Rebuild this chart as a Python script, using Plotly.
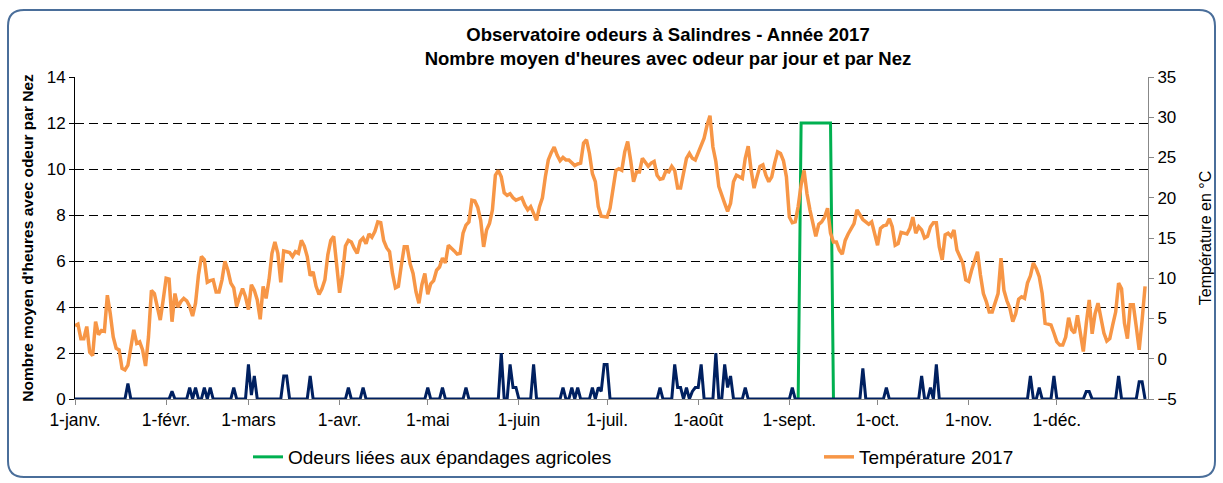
import pandas as pd
import plotly.graph_objects as go

# ---------------- DATA ----------------
dates = pd.date_range("2017-01-01", "2017-12-31", freq="D")

temperature_2017 = [
    4.1, 4.3, 2.5, 2.5, 4.0, 0.8, 0.4, 4.6, 3.0, 3.5,
    3.4, 7.9, 5.6, 2.7, 1.3, 1.1, -1.2, -1.4, -0.8, 1.3,
    3.6, 1.9, 2.1, 1.1, -0.9, 2.7, 8.5, 8.1, 6.5, 4.8,
    7.3, 10.0, 9.9, 4.6, 8.1, 6.4, 7.1, 7.5, 7.2, 6.5,
    5.3, 6.9, 10.4, 12.7, 12.3, 9.5, 9.7, 9.8, 8.3, 8.3,
    9.8, 12.1, 11.0, 9.4, 8.8, 6.5, 7.7, 8.7, 7.7, 6.1,
    9.2, 8.5, 7.3, 4.9, 9.0, 7.5, 9.8, 13.1, 14.5, 13.1,
    9.5, 13.4, 13.3, 13.2, 12.7, 13.3, 13.1, 14.7, 14.0, 12.7,
    10.3, 10.8, 9.0, 8.0, 8.7, 9.8, 12.9, 14.7, 15.2, 11.4,
    8.2, 10.5,
    14.0, 14.7, 14.5, 13.7, 13.1, 14.6, 15.0, 14.3, 15.5, 15.1,
    15.8, 17.0, 16.9, 14.7, 13.8, 13.3, 10.6, 8.8, 9.0, 11.6,
    13.9, 13.9, 11.8, 10.6, 8.3, 6.9, 9.2, 10.6, 8.0, 9.3,
    9.7, 11.0, 11.4, 12.5, 11.9, 14.1, 13.8, 13.4, 13.0, 13.1,
    15.6, 16.6, 17.0, 19.7, 19.6, 18.8, 17.2, 13.9, 16.0, 16.8,
    18.5, 22.8, 23.4, 22.6, 20.6, 20.3, 20.5, 20.0, 19.7, 19.9,
    20.0, 19.1, 18.5, 18.9, 18.0, 17.2, 18.9, 20.0, 22.6, 24.7,
    25.6, 26.3, 25.3, 24.6, 25.0, 24.7, 24.7, 24.3, 24.0, 24.2,
    24.3, 26.8, 27.2, 25.5, 23.0, 22.0, 18.9, 17.7, 17.6, 17.6,
    18.7, 21.4, 23.4, 23.6,
    23.4, 25.7, 27.0, 24.7, 22.0, 23.2, 23.2, 24.9, 24.4, 23.9,
    24.3, 24.5, 22.8, 22.3, 22.4, 23.3, 23.2, 23.9, 23.4, 21.2,
    21.2, 23.0, 24.9, 25.5, 24.9, 24.7, 25.6, 26.3, 27.4, 29.0,
    30.2, 26.3, 24.5, 21.4, 20.2, 19.3, 18.3, 19.3, 22.0, 22.8,
    22.6, 22.4, 24.9, 26.4, 23.4, 21.2, 22.6, 23.9, 24.1, 22.8,
    22.0, 22.6, 24.3, 25.7, 25.5, 24.6, 22.6, 17.6, 16.9, 17.0,
    18.9, 21.6, 23.4, 20.5, 18.5, 16.8, 15.2, 16.7, 17.0, 17.6,
    18.7, 15.6, 14.5, 14.5, 13.5, 13.0, 14.7, 15.5, 16.2, 16.8,
    18.5, 17.9, 17.3, 17.0, 16.7, 17.0, 15.4, 14.1, 16.2, 16.5,
    16.6,
    17.4, 16.4, 14.1, 14.3, 15.7, 15.6, 15.5, 16.2, 17.6, 15.6,
    16.4, 16.0, 15.0, 15.2, 16.4, 16.9, 16.9, 13.9, 12.3, 15.4,
    15.6, 15.2, 16.0, 13.5, 12.7, 11.9, 9.8, 9.6, 11.0, 12.1,
    13.3, 10.4, 8.1, 7.1, 5.8, 5.8, 6.8, 8.1, 12.5, 8.5,
    7.2, 6.3, 4.6, 5.6, 7.4, 7.7, 7.5, 9.4, 10.3, 11.9,
    11.2, 10.2, 8.1, 4.4, 4.3, 4.2, 3.2, 2.1, 1.7, 1.7,
    2.7, 5.1, 3.6, 3.2, 5.4, 2.9, 0.9, 4.4, 7.3, 3.1,
    5.6, 6.9, 4.8, 3.2, 2.2, 2.5, 4.2, 5.8, 9.4, 8.7,
    4.4, 2.5, 6.7, 6.7, 4.0, 1.1, 4.8, 9.0,
]

# days (index from 1 January) with odour reported by the noses, and mean hours
odour_days = [
    18, 33, 39, 41, 44, 46, 54, 59, 60, 61,
    71, 72, 80, 93, 98, 120, 125, 133, 145, 148,
    149, 150, 156, 166, 169, 171, 176, 178, 179, 180,
    181, 199, 204, 205, 206, 208, 210, 211, 212, 213,
    218, 221, 222, 223, 228, 244, 268, 276, 288, 291,
    293, 325, 328, 333, 344, 345, 355, 362, 363,
]
odour_hours = [
    0.67, 0.33, 0.5, 0.5, 0.5, 0.5, 0.5, 1.5, 0.17, 1.0,
    1.0, 1.0, 1.0, 0.5, 0.5, 0.5, 0.5, 0.5, 2.0, 1.5,
    0.5, 0.5, 1.5, 0.5, 0.5, 0.5, 0.5, 0.5, 0.33, 1.5,
    1.5, 0.5, 1.5, 0.5, 0.5, 0.5, 0.33, 0.5, 0.5, 1.5,
    2.0, 1.5, 0.5, 1.0, 0.5, 0.5, 1.33, 0.5, 1.0, 0.5,
    1.5, 1.0, 0.5, 1.0, 0.33, 0.33, 1.0, 0.75, 0.75,
]

# agricultural spreading odours (zero on the days just before and after)
spreading_days = [246, 247, 248, 249, 250, 251, 252, 253, 254, 255, 256, 257, 258]
spreading_hours = [0, 12, 12, 12, 12, 12, 12, 12, 12, 12, 12, 12, 0]

month_labels = ["1-janv.", "1-févr.", "1-mars", "1-avr.", "1-mai", "1-juin",
                "1-juil.", "1-août", "1-sept.", "1-oct.", "1-nov.", "1-déc."]

legend_names = ["Odeurs liées aux épandages agricoles", "Température 2017"]

# ---------------- BUILD SERIES ----------------
odour_series = [0.0] * len(dates)
for d, v in zip(odour_days, odour_hours):
    odour_series[d] = v
spreading_dates = [dates[d] for d in spreading_days]

month_ticks = pd.date_range("2017-01-01", "2017-12-01", freq="MS")

FONT = "Liberation Sans, Arial, sans-serif"
FIG_W, FIG_H = 1223, 483

fig = go.Figure()
fig.add_trace(go.Scatter(x=spreading_dates, y=spreading_hours, mode="lines",
                         name=legend_names[0], legend="legend",
                         line=dict(color="#00B050", width=3)))
fig.add_trace(go.Scatter(x=dates, y=odour_series, mode="lines",
                         name="Nombre moyen d'heures avec odeur", showlegend=False,
                         line=dict(color="#002060", width=3)))
fig.add_trace(go.Scatter(x=dates, y=temperature_2017, mode="lines",
                         name=legend_names[1], legend="legend2", yaxis="y2",
                         line=dict(color="#F79646", width=3.5)))

# plot area: x 75..1148, y 77..399
L, R, T, B = 75, 1148, 77, 399
W, H = R - L, B - T
def px(x):
    return (x - L) / W
def py(y):
    return (B - y) / H

x0, x1 = px(8), px(1215)
y0, y1 = py(477), py(10)
rx, ry = 16 / W, 16 / H
border = (f"M {x0+rx},{y1} L {x1-rx},{y1} Q {x1},{y1} {x1},{y1-ry} "
          f"L {x1},{y0+ry} Q {x1},{y0} {x1-rx},{y0} L {x0+rx},{y0} "
          f"Q {x0},{y0} {x0},{y0+ry} L {x0},{y1-ry} Q {x0},{y1} {x0+rx},{y1} Z")

legend_style = dict(orientation="h", xanchor="left", yanchor="middle", y=py(457),
                    font=dict(family=FONT, size=19, color="black"),
                    bgcolor="rgba(0,0,0,0)", borderwidth=0)

fig.update_layout(
    width=FIG_W, height=FIG_H, autosize=False,
    margin=dict(l=L, r=FIG_W - R, t=T, b=FIG_H - B, pad=0, autoexpand=False),
    paper_bgcolor="white", plot_bgcolor="white",
    font=dict(family=FONT, color="black", size=17),
    title=dict(text="<b>Observatoire odeurs à Salindres - Année 2017</b><br>"
                    "<b>Nombre moyen d'heures avec odeur par jour et par Nez</b>",
               xref="container", yref="container",
               x=668 / FIG_W, y=1 - 41 / FIG_H, xanchor="center", yanchor="middle",
               font=dict(family=FONT, size=18.5, color="black")),
    showlegend=True,
    legend=dict(x=px(248), **legend_style),
    legend2=dict(x=px(819), **legend_style),
    xaxis=dict(type="date", range=["2017-01-01", "2018-01-01"],
               tickvals=month_ticks, ticktext=month_labels,
               ticks="outside", ticklen=5, tickcolor="#888888",
               showline=True, linecolor="#888888", linewidth=1,
               showgrid=False, zeroline=False,
               tickfont=dict(family=FONT, size=17.5, color="black")),
    yaxis=dict(range=[0, 14], dtick=2, tick0=0,
               ticks="outside", ticklen=5, tickcolor="black",
               showline=True, linecolor="black", linewidth=1,
               showgrid=True, gridcolor="black", gridwidth=1, griddash="9px,5px",
               zeroline=False,
               tickfont=dict(family=FONT, size=17, color="black"),
               title=dict(text="<b>Nombre moyen d'heures avec odeur par Nez</b>",
                          font=dict(family=FONT, size=15.5, color="black"), standoff=9),
               automargin=False),
    yaxis2=dict(range=[-5, 35], dtick=5, tick0=-5, overlaying="y", side="right",
                ticks="outside", ticklen=5, tickcolor="#888888",
                showline=True, linecolor="#888888", linewidth=1,
                showgrid=False, zeroline=False,
                tickfont=dict(family=FONT, size=17, color="black"),
                title=dict(text="Température en °C",
                           font=dict(family=FONT, size=16, color="black"), standoff=24),
                automargin=False),
    shapes=[dict(type="path", xref="paper", yref="paper", path=border,
                 line=dict(color="#4A6E9A", width=2), fillcolor="rgba(0,0,0,0)",
                 layer="below")],
)

fig.write_html("out.html", config={"displayModeBar": False},
               post_script="document.body.style.margin='0px';")
